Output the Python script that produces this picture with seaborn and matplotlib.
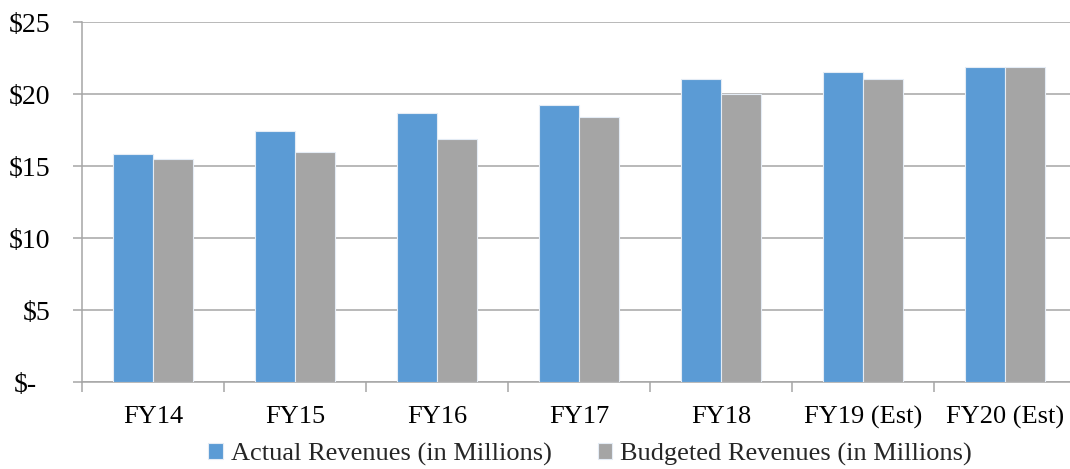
import matplotlib
matplotlib.use("Agg")
import matplotlib.pyplot as plt
import matplotlib.transforms as mtransforms
import seaborn as sns
import pandas as pd

categories = ["FY14", "FY15", "FY16", "FY17", "FY18", "FY19 (Est)", "FY20 (Est)"]
actual = [15.85, 17.41, 18.66, 19.21, 21.06, 21.51, 21.89]
budgeted = [15.46, 15.95, 16.88, 18.38, 20.0, 21.03, 21.89]
series_names = ["Actual Revenues (in Millions)", "Budgeted Revenues (in Millions)"]
y_ticks = [0, 5, 10, 15, 20, 25]
y_tick_labels = ["$-", "$5", "$10", "$15", "$20", "$25"]

df = pd.DataFrame({
    "Year": categories * 2,
    "Value": actual + budgeted,
    "Series": [series_names[0]] * len(categories) + [series_names[1]] * len(categories),
})

sns.set_theme(style="white")
plt.rcParams["font.family"] = ["Liberation Serif", "DejaVu Serif"]

W, H = 1070, 469
fig = plt.figure(figsize=(W / 100, H / 100), dpi=100)
ax = fig.add_axes([82 / W, 1 - 382 / H, 994 / W, 360 / H])

grid_c = "#A6A6A6"
sns.barplot(data=df, x="Year", y="Value", hue="Series", order=categories,
            hue_order=series_names, palette=["#5B9BD5", "#A5A5A5"],
            saturation=1, width=0.567, edgecolor="#E4ECF5", linewidth=0.8,
            ax=ax, legend=True, zorder=3)

ax.set_xlim(-0.5, len(categories) - 0.5)
ax.set_ylim(0, 25)
ax.set_yticks(y_ticks)
ax.set_yticklabels(y_tick_labels)
ax.yaxis.grid(True, color=grid_c, linewidth=1.1, zorder=0)
ax.set_axisbelow(True)
ax.set_xlabel("")
ax.set_ylabel("")

for s in ["top", "right"]:
    ax.spines[s].set_visible(False)
for s in ["left", "bottom"]:
    ax.spines[s].set_color(grid_c)
    ax.spines[s].set_linewidth(1.1)

ax.tick_params(axis="y", which="major", length=6.5, width=1.1, color=grid_c,
               labelsize=20, pad=16, left=True)
ax.tick_params(axis="x", which="major", length=0, labelsize=19, pad=17)
ax.set_xticks([i - 0.5 for i in range(len(categories) + 1)], minor=True)
ax.tick_params(axis="x", which="minor", length=7.2, width=1.1, color=grid_c, bottom=True)

for lab in ax.get_yticklabels():
    lab.set_color("black")
    if lab.get_text() == "$-":
        lab.set_transform(lab.get_transform() +
                          mtransforms.ScaledTranslation(-14 / 100, 0, fig.dpi_scale_trans))
for lab in ax.get_xticklabels():
    lab.set_color("black")

handles, labels = ax.get_legend_handles_labels()
ax.get_legend().remove()
fig.legend(handles, labels, loc="center", bbox_to_anchor=(590 / W, 1 - 454 / H),
           ncol=2, frameon=False, fontsize=19, handlelength=0.55, handleheight=0.55,
           handletextpad=0.3, columnspacing=1.75)

fig.savefig("out.png", dpi=100)
